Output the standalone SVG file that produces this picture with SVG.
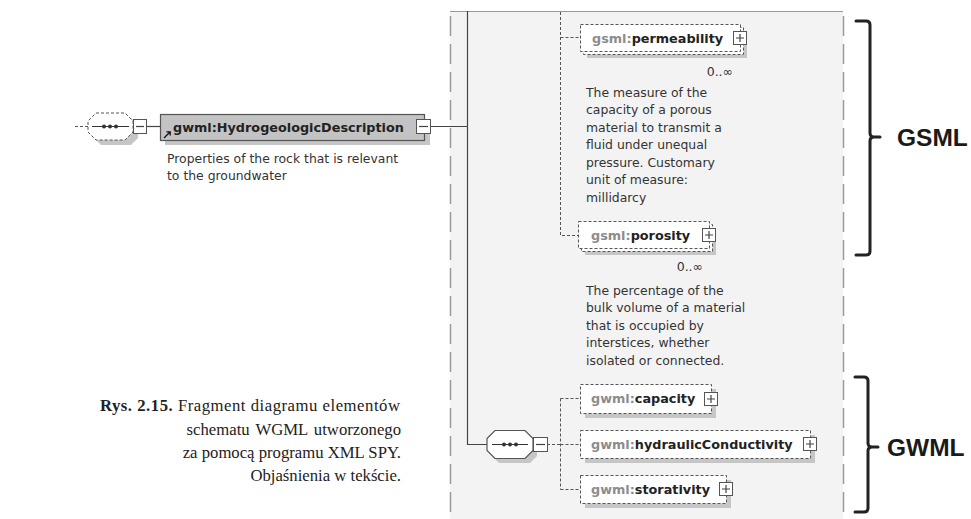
<svg xmlns="http://www.w3.org/2000/svg" width="971" height="519" viewBox="0 0 971 519">
  <style>
    .panel { fill: #f3f3f3; }
    .edge { stroke: #9a9a9a; stroke-width: 1.5; stroke-dasharray: 20 8; fill: none; }
    .solid { stroke: #444; stroke-width: 1.2; fill: none; }
    .dotted { stroke: #555; stroke-width: 1; stroke-dasharray: 3 2; fill: none; }
    .shadow { fill: #c6c6c6; }
    .opt { fill: #fff; stroke: #555; stroke-width: 1; stroke-dasharray: 3 2; }
    .req { fill: #c3c3c3; stroke: #555; stroke-width: 1.2; }
    .btn { fill: #fff; stroke: #555; stroke-width: 1; }
    .glyph { stroke: #444; stroke-width: 1.2; fill: none; }
    .name { font-family: "DejaVu Sans", Verdana, sans-serif; font-weight: bold; font-size: 12.8px; fill: #222; }
    .pfx { fill: #8c8c8c; }
    .doc { font-family: "DejaVu Sans", Verdana, sans-serif; font-size: 12.4px; fill: #333; }
    .card { font-family: "DejaVu Sans", Verdana, sans-serif; font-size: 12.5px; fill: #333; }
    .brace { stroke: #222; stroke-width: 3; fill: none; stroke-linecap: round; stroke-linejoin: round; }
    .tag { font-family: "Liberation Sans", Arial, sans-serif; font-weight: bold; font-size: 24.5px; fill: #1a1a1a; }
    .cap { font-family: "Liberation Serif", "Times New Roman", serif; font-size: 16.7px; fill: #222; }
  </style>

  <!-- content model panel -->
  <rect class="panel" x="450" y="11" width="393" height="508"/>
  <line x1="450" y1="11.5" x2="843" y2="11.5" stroke="#999" stroke-width="1"/>
  <line class="edge" x1="450.5" y1="16" x2="450.5" y2="519"/>
  <line class="edge" x1="843.5" y1="16" x2="843.5" y2="519"/>

  <!-- connectors -->
  <g id="connectors">
    <path class="dotted" d="M75,126.5 H88"/>
    <path class="solid" d="M146,126.5 H160"/>
    <path class="solid" d="M431,126.5 H467.5"/>
    <path class="solid" d="M467.5,11 V444.5 H487"/>
    <path class="dotted" d="M560.5,12 V235.5 H578 M560.5,37.5 H580"/>
    <path class="dotted" d="M547,444.5 H560.5 M560.5,398.5 V489.5 M560.5,398.5 H580 M560.5,444.5 H580 M560.5,489.5 H580"/>
  </g>

  <!-- optional sequence compositor in front of the root element -->
  <g id="seq-root">
    <path class="shadow" d="M101,118 H131 L138,125 V138 L131,145 H101 L94,138 V125 Z"/>
    <path class="opt" d="M96,113 H125 L133,121 V132 L125,140 H96 L88,132 V121 Z"/>
    <line x1="92" y1="126.5" x2="129" y2="126.5" stroke="#333" stroke-width="1.2"/>
    <circle cx="104" cy="126.5" r="2" fill="#333"/>
    <circle cx="110" cy="126.5" r="2" fill="#333"/>
    <circle cx="116" cy="126.5" r="2" fill="#333"/>
    <rect class="btn" x="133.5" y="119.5" width="13" height="14"/>
    <line class="glyph" x1="136" y1="126.5" x2="144" y2="126.5"/>
  </g>

  <!-- root element -->
  <g id="hydrogeologic-description">
    <rect class="shadow" x="165" y="119" width="265" height="26"/>
    <rect class="req" x="160.5" y="114.5" width="264" height="26"/>
    <path d="M164,138 L170,132 M166.5,131.8 H170.2 V135.5" stroke="#111" stroke-width="1.3" fill="none"/>
    <text class="name" x="173" y="131.5">gwml:HydrogeologicDescription</text>
    <rect class="btn" x="416.5" y="119.5" width="14" height="14"/>
    <line class="glyph" x1="419" y1="126.5" x2="428" y2="126.5"/>
    <text class="doc" x="167" y="162.5">Properties of the rock that is relevant</text>
    <text class="doc" x="167" y="180">to the groundwater</text>
  </g>

  <!-- gsml:permeability (0..unbounded) -->
  <g id="permeability">
    <rect class="shadow" x="587" y="31" width="160" height="27"/>
    <rect class="opt" x="583.5" y="27.5" width="160" height="27"/>
    <rect class="opt" x="580.5" y="24.5" width="160" height="27"/>
    <text class="name" x="592" y="42.5"><tspan class="pfx">gsml:</tspan>permeability</text>
    <rect class="btn" x="733.5" y="31.5" width="13" height="13"/>
    <path class="glyph" d="M736,38 H744 M740,34 V42"/>
    <text class="card" x="733" y="76" text-anchor="end">0..∞</text>
    <text class="doc" x="586" y="96.5">The measure of the</text>
    <text class="doc" x="586" y="114">capacity of a porous</text>
    <text class="doc" x="586" y="131.5">material to transmit a</text>
    <text class="doc" x="586" y="149">fluid under unequal</text>
    <text class="doc" x="586" y="166.5">pressure.  Customary</text>
    <text class="doc" x="586" y="184">unit of measure:</text>
    <text class="doc" x="586" y="201.5">millidarcy</text>
  </g>

  <!-- gsml:porosity (0..unbounded) -->
  <g id="porosity">
    <rect class="shadow" x="585" y="228" width="131" height="27"/>
    <rect class="opt" x="581.5" y="224.5" width="131" height="27"/>
    <rect class="opt" x="578.5" y="221.5" width="131" height="27"/>
    <text class="name" x="591" y="239.5"><tspan class="pfx">gsml:</tspan>porosity</text>
    <rect class="btn" x="702.5" y="228.5" width="13" height="13"/>
    <path class="glyph" d="M705,235 H713 M709,231 V239"/>
    <text class="card" x="703" y="271" text-anchor="end">0..∞</text>
    <text class="doc" x="586" y="294.5">The percentage of the</text>
    <text class="doc" x="586" y="312">bulk volume of a material</text>
    <text class="doc" x="586" y="329.5">that is occupied by</text>
    <text class="doc" x="586" y="347">interstices, whether</text>
    <text class="doc" x="586" y="364.5">isolated or connected.</text>
  </g>

  <!-- sequence compositor of the GWML part -->
  <g id="seq-gwml">
    <path class="shadow" d="M499,435 H530 L537,442 V456 L530,463 H499 L492,456 V442 Z"/>
    <path fill="#fff" stroke="#555" stroke-width="1.2" d="M495,430.5 H525 L533,438.5 V450.5 L525,458.5 H495 L487,450.5 V438.5 Z"/>
    <line x1="492" y1="444.5" x2="528" y2="444.5" stroke="#333" stroke-width="1.2"/>
    <circle cx="504" cy="444.5" r="2" fill="#333"/>
    <circle cx="510" cy="444.5" r="2" fill="#333"/>
    <circle cx="516" cy="444.5" r="2" fill="#333"/>
    <rect class="btn" x="533.5" y="437.5" width="14" height="14"/>
    <line class="glyph" x1="536" y1="444.5" x2="545" y2="444.5"/>
  </g>

  <!-- gwml:capacity -->
  <g id="capacity">
    <rect class="shadow" x="585" y="389" width="131" height="29"/>
    <rect class="opt" x="580.5" y="384.5" width="131" height="29"/>
    <text class="name" x="591" y="403"><tspan class="pfx">gwml:</tspan>capacity</text>
    <rect class="btn" x="704.5" y="392.5" width="13" height="13"/>
    <path class="glyph" d="M707,399 H715 M711,395 V403"/>
  </g>

  <!-- gwml:hydraulicConductivity -->
  <g id="hydraulic-conductivity">
    <rect class="shadow" x="585" y="435" width="230" height="28"/>
    <rect class="opt" x="580.5" y="430.5" width="230" height="28"/>
    <text class="name" x="591" y="449"><tspan class="pfx">gwml:</tspan>hydraulicConductivity</text>
    <rect class="btn" x="803.5" y="437.5" width="13" height="13"/>
    <path class="glyph" d="M806,444 H814 M810,440 V448"/>
  </g>

  <!-- gwml:storativity -->
  <g id="storativity">
    <rect class="shadow" x="585" y="480" width="146" height="28"/>
    <rect class="opt" x="580.5" y="475.5" width="146" height="28"/>
    <text class="name" x="591" y="494"><tspan class="pfx">gwml:</tspan>storativity</text>
    <rect class="btn" x="719.5" y="482.5" width="13" height="13"/>
    <path class="glyph" d="M722,489 H730 M726,485 V493"/>
  </g>

  <!-- braces -->
  <g id="gsml-brace">
    <path class="brace" d="M856,21 H866 Q870,21 870,25 V133 Q870,137 874,137 H880 M874,137 Q870,137 870,141 V251 Q870,255 866,255 H856"/>
    <text class="tag" x="897" y="146">GSML</text>
  </g>
  <g id="gwml-brace">
    <path class="brace" d="M855,377 H864 Q868,377 868,381 V443 Q868,447 872,447 H878 M872,447 Q868,447 868,451 V508 Q868,512 864,512 H855"/>
    <text class="tag" x="887" y="456">GWML</text>
  </g>

  <!-- caption -->
  <g id="caption">
    <text class="cap" x="100" y="411" textLength="300" lengthAdjust="spacing" font-size="17.3"><tspan font-weight="bold">Rys. 2.15.</tspan> Fragment diagramu elementów</text>
    <text class="cap" x="401" y="435" text-anchor="end" word-spacing="2">schematu WGML utworzonego</text>
    <text class="cap" x="401" y="458" text-anchor="end">za pomocą programu XML SPY.</text>
    <text class="cap" x="401" y="481" text-anchor="end">Objaśnienia w tekście.</text>
  </g>
</svg>
